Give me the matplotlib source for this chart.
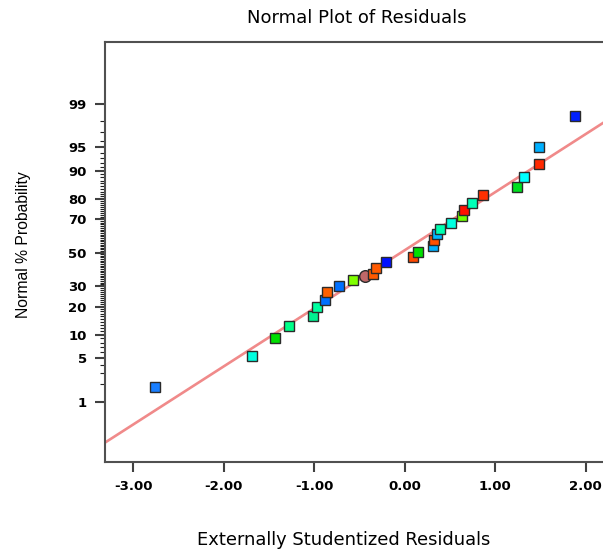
import numpy as np
import matplotlib
matplotlib.use("Agg")
import matplotlib.pyplot as plt
from matplotlib.ticker import FixedLocator, FixedFormatter, NullFormatter
from statistics import NormalDist

# ---------------- data ----------------
residuals = [-2.763, -1.691, -1.433, -1.275, -1.010, -0.966, -0.881, -0.855, -0.726, -0.568,
             -0.439, -0.354, -0.317, -0.207, 0.095, 0.150, 0.309, 0.327, 0.354, 0.390,
             0.508, 0.630, 0.659, 0.738, 0.869, 1.244, 1.319, 1.488, 1.488, 1.882]
probability = [1.82, 5.39, 9.08, 12.5, 16.06, 19.7, 22.9, 26.7, 30.0, 33.5,
               36.0, 37.2, 40.4, 43.9, 47.2, 50.7, 54.2, 57.7, 61.4, 64.5,
               67.9, 71.4, 74.8, 78.0, 81.5, 84.8, 88.2, 91.7, 95.0, 98.35]
point_colors = ['#1a7fff', '#00ffe0', '#00e000', '#00ff88', '#00f090', '#00ffa0', '#0070ff',
                '#ff6000', '#0070ff', '#80ff00', '#c06868', '#ff5a00', '#ff5a00', '#0010ff',
                '#ff4800', '#00e000', '#00b0ff', '#ff5000', '#00b8ff', '#00ffb0', '#00ffe0',
                '#70ff00', '#ff1000', '#00ffb8', '#ff3000', '#00e020', '#00ffff', '#ff2800',
                '#00b0ff', '#0020ff']
point_markers = ['s'] * 10 + ['o'] + ['s'] * 19
line_slope = 0.9075      # in normal-score units per residual
line_intercept = 0.0386

y_major = [1, 5, 10, 20, 30, 50, 70, 80, 90, 95, 99]
y_major_labels = ['1', '5', '10', '20', '30', '50', '70', '80', '90', '95', '99']
y_minor = [v for v in range(1, 100) if v not in y_major]
x_ticks = [-3, -2, -1, 0, 1, 2]
x_tick_labels = ['-3.00', '-2.00', '-1.00', '0.00', '1.00', '2.00']

# ---------------- scale ----------------
_nd = NormalDist()
_ppf = np.vectorize(lambda p: _nd.inv_cdf(min(max(p / 100.0, 1e-12), 1 - 1e-12)))
_cdf = np.vectorize(lambda z: _nd.cdf(z) * 100.0)


def fwd(p):
    return _ppf(np.asarray(p, dtype=float))


def inv(z):
    return _cdf(np.asarray(z, dtype=float))


fig = plt.figure(figsize=(6.03, 5.51), dpi=100)
W, H = 603, 551
ax = fig.add_axes([105 / W, (H - 462) / H, (613 - 105) / W, (462 - 42) / H])
ax.set_yscale('function', functions=(fwd, inv))

xlim = (-3.312, 2.30)
ax.set_xlim(*xlim)
ax.set_ylim(float(inv(-3.27)), float(inv(3.29)))

# fitted line
lx = np.array(xlim)
lz = line_slope * lx + line_intercept
ax.plot(lx, inv(lz), color='#f08a8a', lw=1.9, zorder=2, solid_capstyle='butt')

for xv, pv, c, m in zip(residuals, probability, point_colors, point_markers):
    ms = 7.6 if m == 's' else 8.4
    ax.plot([xv], [pv], marker=m, ms=ms, mfc=c, mec='#2a2a2a', mew=1.0,
            linestyle='none', zorder=3)

# axes styling
ax.spines['right'].set_visible(False)
for s in ['left', 'bottom', 'top']:
    ax.spines[s].set_color('#505050')
    ax.spines[s].set_linewidth(1.5)

ax.yaxis.set_major_locator(FixedLocator(y_major))
ax.yaxis.set_major_formatter(FixedFormatter(y_major_labels))
ax.yaxis.set_minor_locator(FixedLocator(y_minor))
ax.yaxis.set_minor_formatter(NullFormatter())
ax.set_xticks(x_ticks)
ax.set_xticklabels(x_tick_labels)

ax.tick_params(axis='both', which='major', direction='out', length=7.2, width=1.5,
               color='#404040', labelsize=9.5, pad=6.0)
ax.tick_params(axis='y', which='minor', direction='out', length=3.6, width=0.8,
               color='#202020')
ax.tick_params(axis='x', which='minor', length=0)
for lab in ax.get_xticklabels() + ax.get_yticklabels():
    lab.set_fontfamily('DejaVu Sans')
    lab.set_fontweight('bold')

fig.text(357 / W, 1 - 18 / H, 'Normal Plot of Residuals', ha='center', va='center',
         fontsize=13, family='DejaVu Sans')
fig.text(344 / W, 1 - 540 / H, 'Externally Studentized Residuals', ha='center',
         va='center', fontsize=12.9, family='DejaVu Sans')
fig.text(24 / W, 1 - 244.5 / H, 'Normal % Probability', ha='center', va='center',
         rotation=90, fontsize=11.3, family='Liberation Sans')

fig.savefig('out.png', dpi=100)
